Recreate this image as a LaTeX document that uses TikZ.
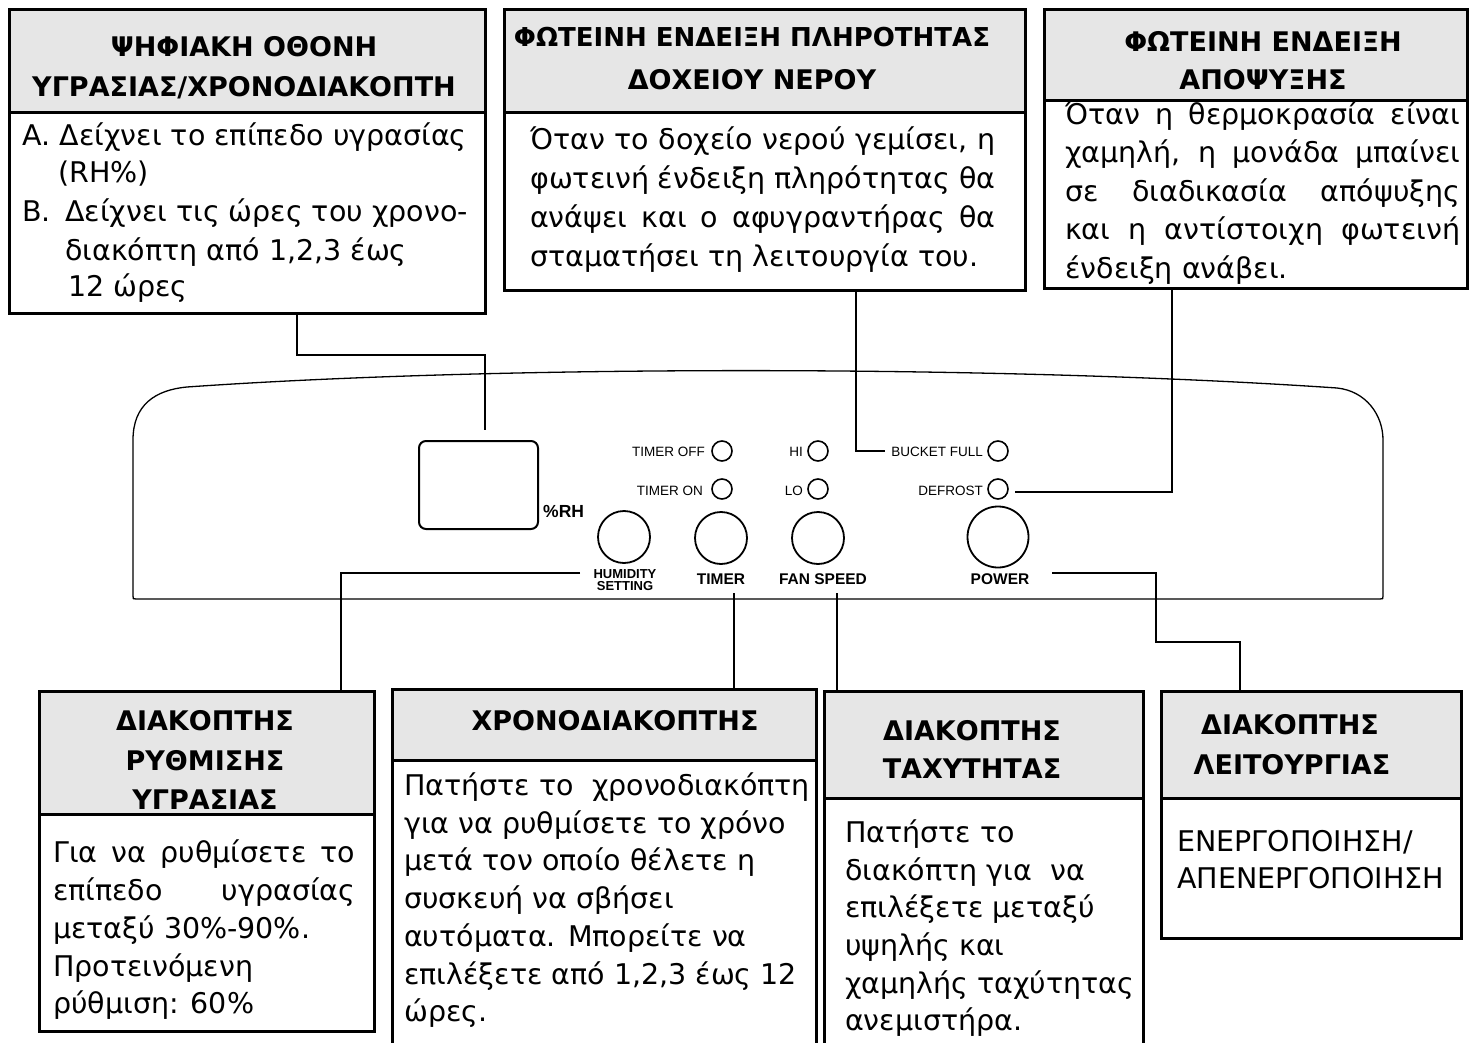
\documentclass[tikz,border=0pt]{standalone}
\usepackage{fontspec}
\setmainfont{Liberation Sans}
\newfontfamily\boxfont{DejaVu Sans}
\definecolor{hdrgray}{HTML}{E6E6E6}
\tikzset{
  frame/.style={draw=black, line width=2.6pt, inner sep=0pt, anchor=north west},
  hdr/.style={frame, fill=hdrgray},
  ln/.style={draw=black, line width=2pt},
  txt/.style={inner sep=0pt, anchor=base west, font=\boxfont\fontsize{28.5}{32}\selectfont},
  htxt/.style={inner sep=0pt, anchor=base, font=\boxfont\bfseries\fontsize{27}{30}\selectfont},
  panel/.style={draw=black, line width=1.3pt},
  led/.style={circle, draw=black, line width=1.6pt, minimum size=20pt, inner sep=0pt},
  btn/.style={circle, draw=black, line width=1.8pt, minimum size=52pt, inner sep=0pt},
  plab/.style={inner sep=0pt, anchor=base east, font=\fontsize{13.5}{14}\selectfont},
  pbold/.style={inner sep=0pt, anchor=base, font=\fontsize{15.5}{16}\selectfont\bfseries},
}
\begin{document}
\begin{tikzpicture}[x=1pt, y=-1pt]
\useasboundingbox (0,0) rectangle (1478,1043);
\clip (0,0) rectangle (1478,1043);
\fill[white] (0,0) rectangle (1478,1043);

% ---------- top boxes ----------
\node[hdr, minimum width=476pt, minimum height=103pt] (h1) at (8,8) {};
\node[frame, minimum width=476pt, minimum height=201pt] (b1) at (8,111) {};
\node[hdr, minimum width=521pt, minimum height=103pt] (h2) at (503,8) {};
\node[frame, minimum width=521pt, minimum height=178pt] (b2) at (503,111) {};
\node[hdr, minimum width=423pt, minimum height=91pt] (h3) at (1043,8) {};
\node[frame, minimum width=423pt, minimum height=188pt] (b3) at (1043,99) {};

\node[htxt] (t1a) at (244,57) {ΨΗΦΙΑΚΗ ΟΘΟΝΗ};
\node[htxt] (t1b) at (244,97) {ΥΓΡΑΣΙΑΣ/ΧΡΟΝΟΔΙΑΚΟΠΤΗ};
\node[txt] (b1l1) at (22,146) {Α. Δείχνει το επίπεδο υγρασίας};
\node[txt] (b1l2) at (58,183) {(RH\%)};
\node[txt] (b1l3a) at (22,222) {Β.};
\node[txt] (b1l3) at (65,222) {Δείχνει τις ώρες του χρονο-};
\node[txt] (b1l4) at (65,260) {διακόπτη από 1,2,3 έως};
\node[txt] (b1l5) at (68,296) {12 ώρες};

\node[htxt, font=\boxfont\bfseries\fontsize{26}{30}\selectfont] (t2a) at (752,47) {ΦΩΤΕΙΝΗ ΕΝΔΕΙΞΗ ΠΛΗΡΟΤΗΤΑΣ};
\node[htxt] (t2b) at (752,90) {ΔΟΧΕΙΟΥ ΝΕΡΟΥ};
\node[txt] (b2l1) at (530,150) {\makebox[465pt][s]{Όταν το δοχείο νερού γεμίσει, η}};
\node[txt] (b2l2) at (530,189) {\makebox[465pt][s]{φωτεινή ένδειξη πληρότητας θα}};
\node[txt] (b2l3) at (530,228) {\makebox[465pt][s]{ανάψει και ο αφυγραντήρας θα}};
\node[txt] (b2l4) at (530,266) {σταματήσει τη λειτουργία του.};

\node[htxt] (t3a) at (1263,52) {ΦΩΤΕΙΝΗ ΕΝΔΕΙΞΗ};
\node[htxt] (t3b) at (1263,90) {ΑΠΟΨΥΞΗΣ};
\node[txt] (b3l1) at (1065,125) {\makebox[395pt][s]{Όταν η θερμοκρασία είναι}};
\node[txt] (b3l2) at (1065,163) {\makebox[395pt][s]{χαμηλή, η μονάδα μπαίνει}};
\node[txt] (b3l3) at (1065,202) {\makebox[395pt][s]{σε διαδικασία απόψυξης}};
\node[txt] (b3l4) at (1065,240) {\makebox[395pt][s]{και η αντίστοιχη φωτεινή}};
\node[txt] (b3l5) at (1065,278) {ένδειξη ανάβει.};

% ---------- panel ----------
\draw[panel] (133,440) .. controls (133,405) and (155,390) .. (187,387)
  .. controls (500,365) and (1000,365) .. (1337,388)
  .. controls (1366,391) and (1383,415) .. (1383,440)
  -- (1383,596) .. controls (1383,599) .. (1380,599)
  -- (136,599) .. controls (133,599) .. (133,596) -- cycle;

\node[draw=black, line width=2pt, rounded corners=7pt, minimum width=119pt, minimum height=88pt, inner sep=0pt, anchor=north west] (disp) at (418,440) {};
\node[inner sep=0pt, anchor=base west, font=\fontsize{17.5}{18}\selectfont\bfseries] (rh) at (543,517) {\%RH};

\node[led] (toff) at (722,451) {};
\node[led] (ton) at (722,489) {};
\node[led] (hi) at (818,451) {};
\node[led] (lo) at (818,489) {};
\node[led] (bf) at (998,451) {};
\node[led] (df) at (998,489) {};
\node[plab] (ltoff) at (705,456) {TIMER OFF};
\node[plab] (lton) at (703,495) {TIMER ON};
\node[plab] (lhi) at (803,456) {HI};
\node[plab] (llo) at (803,495) {LO};
\node[plab] (lbf) at (983,456) {BUCKET FULL};
\node[plab] (ldf) at (983,495) {DEFROST};

\node[btn] (bhum) at (624,537) {};
\node[btn] (btim) at (721,538) {};
\node[btn] (bfan) at (818,538) {};
\node[btn, minimum size=61pt] (bpow) at (998,537) {};
\node[pbold, font=\fontsize{13}{13}\selectfont\bfseries] (lhum1) at (625,578) {HUMIDITY};
\node[pbold, font=\fontsize{13}{13}\selectfont\bfseries] (lhum2) at (625,590) {SETTING};
\node[pbold] (ltim) at (721,584) {TIMER};
\node[pbold] (lfan) at (823,584) {FAN SPEED};
\node[pbold] (lpow) at (1000,584) {POWER};

% ---------- bottom boxes ----------
\node[hdr, minimum width=335pt, minimum height=123pt] (h4) at (38,690) {};
\node[frame, minimum width=335pt, minimum height=217pt] (b4) at (38,813) {};
\node[hdr, minimum width=424pt, minimum height=71pt] (h5) at (391,688) {};
\node[frame, minimum width=424pt, minimum height=320pt] (b5) at (391,759) {};
\node[hdr, minimum width=319pt, minimum height=107pt] (h6) at (823,690) {};
\node[frame, minimum width=319pt, minimum height=280pt] (b6) at (823,797) {};
\node[hdr, minimum width=300pt, minimum height=107pt] (h7) at (1160,690) {};
\node[frame, minimum width=300pt, minimum height=140pt] (b7) at (1160,797) {};

\node[htxt] (t4a) at (205,730) {ΔΙΑΚΟΠΤΗΣ};
\node[htxt] (t4b) at (205,770) {ΡΥΘΜΙΣΗΣ};
\node[htxt] (t4c) at (205,809) {ΥΓΡΑΣΙΑΣ};
\node[txt] (b4l1) at (53,862) {\makebox[302pt][s]{Για να ρυθμίσετε το}};
\node[txt] (b4l2) at (53,900) {\makebox[302pt][s]{επίπεδο υγρασίας}};
\node[txt] (b4l3) at (53,938) {μεταξύ 30\%-90\%.};
\node[txt] (b4l4) at (53,976) {Προτεινόμενη};
\node[txt] (b4l5) at (53,1013) {ρύθμιση: 60\%};

\node[htxt] (t5a) at (615,730) {ΧΡΟΝΟΔΙΑΚΟΠΤΗΣ};
\node[txt] (b5l1) at (404,795) {Πατήστε το\ \ χρονοδιακόπτη};
\node[txt] (b5l2) at (404,833) {για να ρυθμίσετε το χρόνο};
\node[txt] (b5l3) at (404,870) {μετά τον οποίο θέλετε η};
\node[txt] (b5l4) at (404,908) {συσκευή να σβήσει};
\node[txt] (b5l5) at (404,946) {αυτόματα. Μπορείτε να};
\node[txt] (b5l6) at (404,984) {επιλέξετε από 1,2,3 έως 12};
\node[txt] (b5l7) at (404,1021) {ώρες.};

\node[htxt] (t6a) at (972,740) {ΔΙΑΚΟΠΤΗΣ};
\node[htxt] (t6b) at (972,778) {ΤΑΧΥΤΗΤΑΣ};
\node[txt] (b6l1) at (845,842) {Πατήστε το};
\node[txt] (b6l2) at (845,880) {διακόπτη για\ \ να};
\node[txt] (b6l3) at (845,917) {επιλέξετε μεταξύ};
\node[txt] (b6l4) at (845,955) {υψηλής και};
\node[txt] (b6l5) at (845,993) {χαμηλής ταχύτητας};
\node[txt] (b6l6) at (845,1030) {ανεμιστήρα.};

\node[htxt] (t7a) at (1290,734) {ΔΙΑΚΟΠΤΗΣ};
\node[htxt] (t7b) at (1292,774) {ΛΕΙΤΟΥΡΓΙΑΣ};
\node[txt] (b7l1) at (1177,851) {ΕΝΕΡΓΟΠΟΙΗΣΗ/};
\node[txt] (b7l2) at (1177,888) {ΑΠΕΝΕΡΓΟΠΟΙΗΣΗ};

% ---------- connector ends ----------
\coordinate (bfend) at (885,451);
\coordinate (dfend) at (1015,492);
\coordinate (humend) at (580,573);
\coordinate (timend) at (734,593);
\coordinate (fanend) at (837,593);
\coordinate (powend) at (1052,573);

% ---------- connectors ----------
\draw[ln] ([xshift=289pt]b1.south west) -- ++(0,40) -| ([xshift=6.5pt,yshift=10pt]disp.north);
\draw[ln] ([xshift=353pt]b2.south west) |- (bfend);
\draw[ln] ([xshift=129pt]b3.south west) |- (dfend);
\draw[ln] (humend) -| ([xshift=303pt]h4.north west);
\draw[ln] (timend) -- (timend |- h5.north);
\draw[ln] (fanend) -- (fanend |- h6.north);
\draw[ln] (powend) -- ++(104,0) -- ++(0,69) -| ([xshift=80pt]h7.north west);
\end{tikzpicture}
\end{document}
